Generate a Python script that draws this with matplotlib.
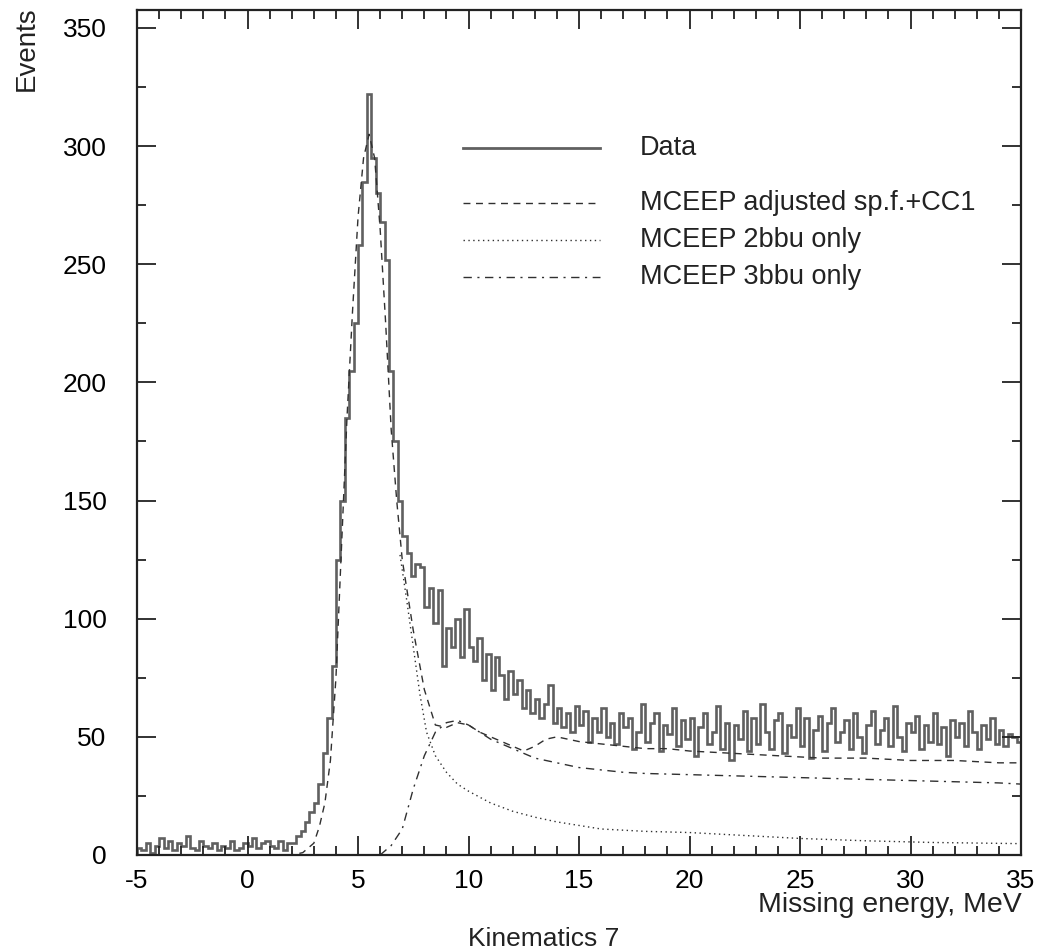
import numpy as np
import matplotlib
matplotlib.use("Agg")
import matplotlib.pyplot as plt
from matplotlib.ticker import MultipleLocator

plt.rcParams['font.family'] = ['Liberation Sans', 'DejaVu Sans']
plt.rcParams['axes.unicode_minus'] = False

# ---------------- data ----------------
# Measured histogram, 0.2 MeV bins from -5 to 35 MeV
e_min, e_max, n_bins = -5.0, 35.0, 200
data_counts = [
    3, 2, 5, 1, 4,   7, 3, 6, 2, 5,   4, 8, 3, 2, 6,   4, 3, 5, 2, 4,
    3, 6, 2, 3, 5,   4, 7, 3, 5, 6,   4, 3, 6, 2, 5,   5, 8, 10, 14, 18,
    22, 30, 43, 58, 80,   125, 150, 185, 205, 225,   258, 285, 322, 295, 280,
    268, 252, 205, 175, 150,   135, 128, 118, 123, 122,   105, 113, 98, 112, 80,
    96, 88, 100, 84, 104,   88, 82, 92, 74, 85,   70, 84, 76, 66, 78,
    68, 74, 62, 70, 60,   66, 58, 64, 72, 56,   62, 54, 60, 52, 63,
    55, 61, 48, 58, 52,   62, 50, 56, 47, 60,   54, 58, 45, 52, 64,
    48, 56, 60, 44, 55,   51, 62, 46, 57, 49,   58, 42, 54, 60, 47,
    52, 63, 45, 56, 40,   55, 49, 61, 44, 58,   47, 64, 52, 45, 57,
    60, 43, 55, 50, 62,   46, 58, 41, 53, 59,   44, 56, 62, 48, 52,
    57, 45, 60, 50, 43,   55, 61, 47, 53, 58,   46, 63, 50, 44, 56,
    52, 59, 45, 55, 48,   60, 47, 54, 42, 57,   50, 56, 46, 61, 52,
    45, 55, 49, 58, 47,   53, 46, 51, 50, 48,
]

# MCEEP adjusted sp.f.+CC1 (dashed)
spf_e = [-5, 1, 2, 2.5, 3, 3.25, 3.5, 3.75, 4, 4.25, 4.5, 4.75, 5, 5.25, 5.5,
         5.75, 6, 6.25, 6.5, 6.75, 7, 7.5, 8, 8.5, 9, 9.5, 10, 10.5, 11, 11.5,
         12, 12.5, 13, 13.5, 14, 15, 16, 17, 18, 19, 20, 22, 24, 26, 28, 30,
         32, 34, 35]
spf_v = [0, 0, 0, 1, 5, 12, 22, 40, 75, 130, 185, 230, 270, 295, 305,
         295, 265, 225, 180, 150, 125, 95, 70, 55, 54, 56, 55, 52, 50, 48,
         46, 44, 46, 49, 50, 48, 47, 46, 45, 45, 44, 43, 42, 41, 41, 40,
         40, 39, 39]

# MCEEP 2bbu only (dotted)
bbu2_e = [6.9, 7.2, 7.5, 7.8, 8.1, 8.5, 9, 9.5, 10, 11, 12, 13, 14, 15, 16,
          18, 20, 22, 25, 28, 31, 35]
bbu2_v = [127, 108, 88, 68, 52, 42, 35, 30, 27, 22, 18.5, 16, 14, 12.5, 11,
          10, 9.5, 8.5, 7, 6, 5.3, 4.8]

# MCEEP 3bbu only (dash-dot)
bbu3_e = [6.0, 6.5, 7.0, 7.5, 8.0, 8.5, 9.0, 9.5, 10, 10.5, 11, 12, 13, 14,
          15, 16, 17, 18, 20, 22, 24, 26, 28, 30, 32, 34, 35]
bbu3_v = [0, 4, 11, 28, 42, 52, 56, 57, 55, 52, 49, 45, 41, 39,
          37, 36, 35, 34.5, 34, 33.5, 33, 32.5, 32, 31.5, 31, 30.5, 30]

legend_labels = ["Data", "MCEEP adjusted sp.f.+CC1", "MCEEP 2bbu only",
                 "MCEEP 3bbu only"]

# ---------------- figure ----------------
fig = plt.figure(figsize=(10.39, 9.52), dpi=100)
ax = fig.add_axes([0.1319, 0.1019, 0.8508, 0.8876])

data_color = '#606060'
model_color = '#303030'
ls_dash = (0, (5, 4))
ls_dot = (0, (1, 2.5))
ls_dashdot = (0, (6, 4, 1.5, 4))

edges = np.linspace(e_min, e_max, n_bins + 1)
ax.stairs(data_counts, edges, color=data_color, lw=1.9)
ax.plot(spf_e, spf_v, color=model_color, lw=1.0, ls=ls_dash)
ax.plot(bbu2_e, bbu2_v, color=model_color, lw=1.0, ls=ls_dot)
ax.plot(bbu3_e, bbu3_v, color=model_color, lw=1.0, ls=ls_dashdot)

ax.set_xlim(-5, 35)
ax.set_ylim(0, 357.6)

ax.xaxis.set_major_locator(MultipleLocator(5))
ax.xaxis.set_minor_locator(MultipleLocator(1))
ax.yaxis.set_major_locator(MultipleLocator(50))
ax.yaxis.set_minor_locator(MultipleLocator(25))
ax.tick_params(which='both', direction='in', top=True, right=True,
               width=1.3, color='#222222')
ax.tick_params(which='major', length=14)
ax.tick_params(which='minor', length=6.5)
ax.tick_params(axis='x', which='major', labelsize=19, pad=10)
ax.tick_params(axis='y', which='major', labelsize=19, pad=22)
for sp in ax.spines.values():
    sp.set_linewidth(1.6)
    sp.set_color('#222222')

# legend drawn by hand (uneven row spacing as in the original)
rows_y = [0.837, 0.772, 0.728, 0.684]
styles = [dict(color=data_color, lw=2.0, ls='-'),
          dict(color=model_color, lw=1.0, ls=ls_dash),
          dict(color=model_color, lw=1.0, ls=ls_dot),
          dict(color=model_color, lw=1.0, ls=ls_dashdot)]
for yy, st, lab in zip(rows_y, styles, legend_labels):
    ax.plot([0.369, 0.524], [yy, yy], transform=ax.transAxes, **st)
    ax.text(0.569, yy, lab, transform=ax.transAxes, fontsize=19.5,
            va='center', ha='left', color='#222222')

fig.text(0.026, 0.993, 'Events', rotation=90, ha='center', va='top',
         fontsize=20, color='#222222')
fig.text(0.983, 0.049, 'Missing energy, MeV', ha='right', va='center',
         fontsize=20.5, color='#222222')
fig.text(0.523, 0.014, 'Kinematics 7', ha='center', va='center',
         fontsize=19, color='#222222')

fig.savefig('out.png', dpi=100)
